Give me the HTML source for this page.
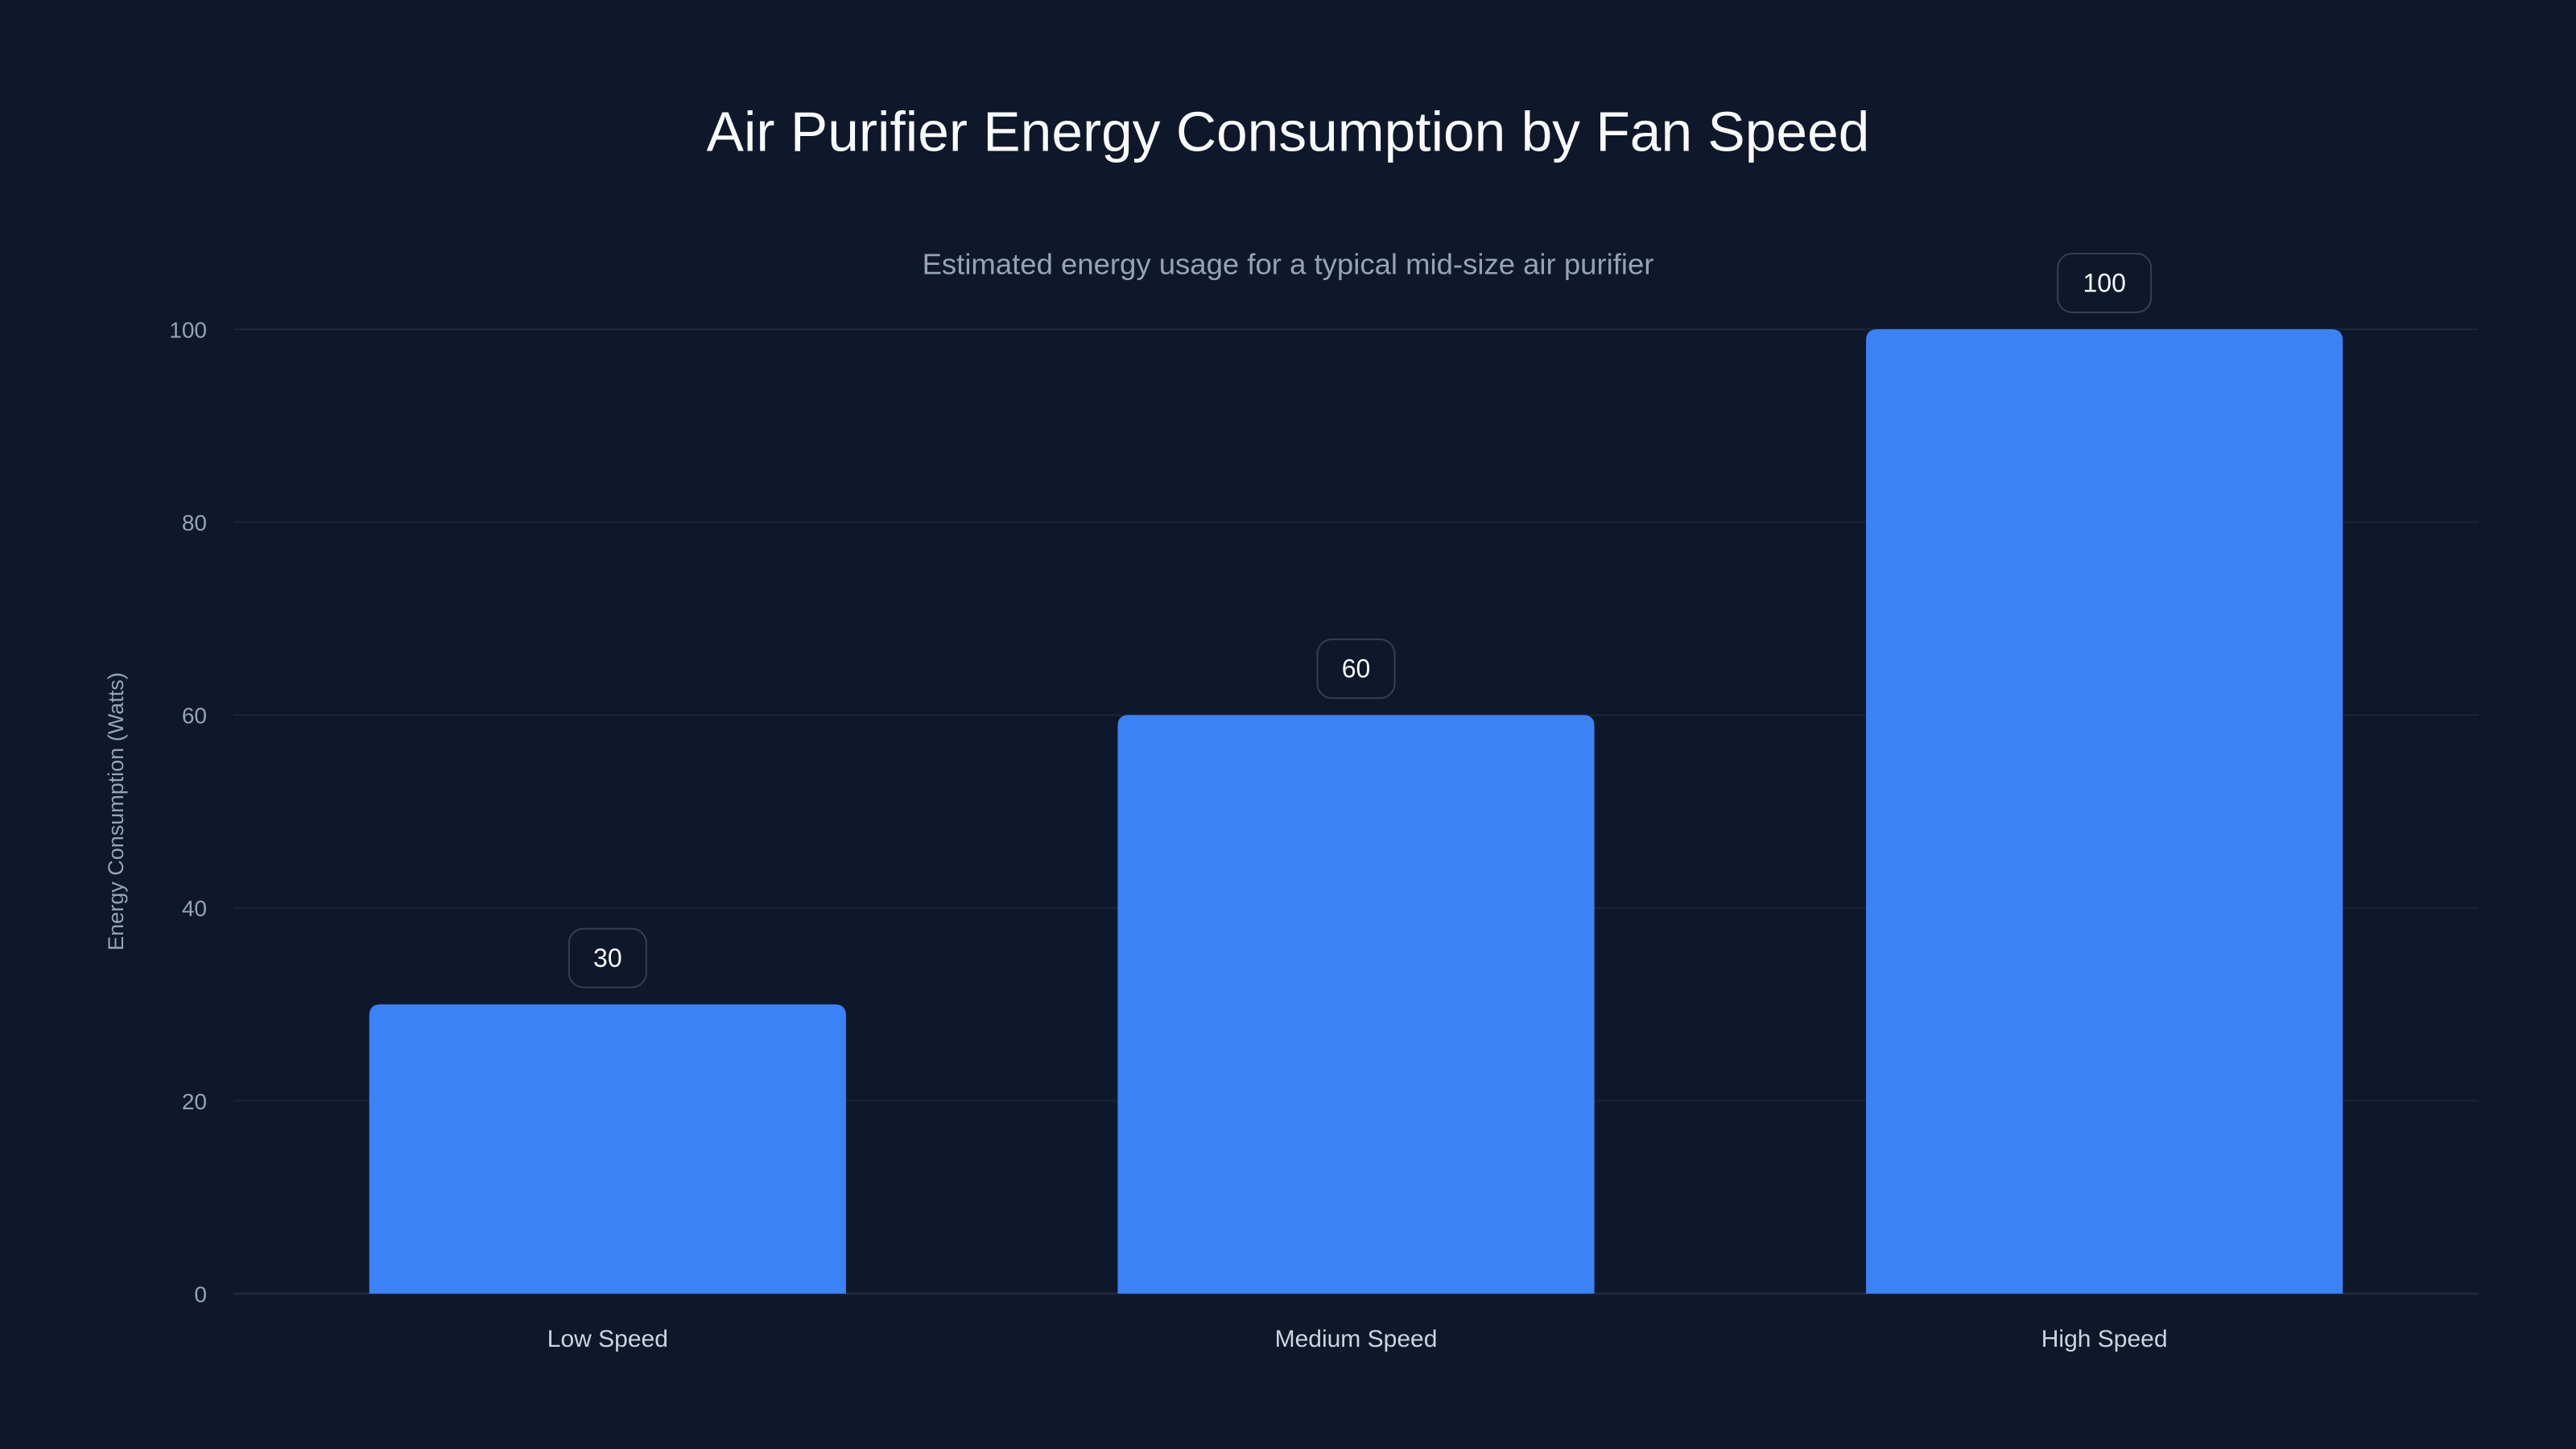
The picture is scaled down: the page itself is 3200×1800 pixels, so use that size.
<!DOCTYPE html>
<html><head><meta charset="utf-8"><style>
html,body{margin:0;padding:0;background:#0f172a;}
svg{display:block;font-family:"Liberation Sans",sans-serif;}
</style></head><body>
<svg id="chart" width="3200" height="1800" viewBox="0 0 3200 1800">
<rect width="3200" height="1800" fill="#0f172a"/>
<text x="1600" y="169" text-anchor="middle" dominant-baseline="middle" font-size="69.5" fill="#f8fafc">Air Purifier Energy Consumption by Fan Speed</text>
<text x="1600" y="331" text-anchor="middle" dominant-baseline="middle" font-size="36.5" fill="#94a3b8">Estimated energy usage for a typical mid-size air purifier</text>
<text transform="translate(146,1008) rotate(-90)" text-anchor="middle" dominant-baseline="middle" font-size="27" fill="#94a3b8">Energy Consumption (Watts)</text>
<g id="grid"></g><g id="bars"></g><g id="labels"></g>
</svg>
<script>
const categories = ["Low Speed", "Medium Speed", "High Speed"];
const values = [30, 60, 100];
const yTicks = [0, 20, 40, 60, 80, 100];
const NS = "http://www.w3.org/2000/svg";
const L = 290, R = 3079, T = 409, B = 1607, yMax = 100;
const y = v => B - (v / yMax) * (B - T);
const band = (R - L) / categories.length;
const bw = band * 0.637;
const xc = i => L + band * (i + 0.5);
function mk(tag, attrs, parent) { const e = document.createElementNS(NS, tag); for (const k in attrs) e.setAttribute(k, attrs[k]); parent.appendChild(e); return e; }
const grid = document.getElementById('grid'), bars = document.getElementById('bars'), labels = document.getElementById('labels');
yTicks.forEach(t => {
  const ln = mk('line', {x1: L, x2: R, y1: y(t), y2: y(t), stroke: t === 0 ? '#1e293b' : '#1c2638', 'stroke-width': t === 0 ? 3 : 2}, grid);
  
  
  const tx = mk('text', {x: 257, y: y(t) + 3, 'text-anchor': 'end', 'dominant-baseline': 'middle', 'font-size': 28, fill: '#94a3b8'}, grid);
  tx.textContent = t;
  
  
});
categories.forEach((c, i) => {
  const x0 = xc(i) - bw / 2, x1 = xc(i) + bw / 2, top = y(values[i]), r = 14;
  const p = mk('path', {d: `M${x0},${B}V${top + r}Q${x0},${top} ${x0 + r},${top}H${x1 - r}Q${x1},${top} ${x1},${top + r}V${B}Z`, fill: '#3b82f6'}, bars);
  
  
  const s = String(values[i]); const w = 56 + s.length * 20;
  const box = mk('rect', {x: xc(i) - w / 2, y: top - 94, width: w, height: 73, rx: 18, fill: '#0f172a', stroke: '#334155', 'stroke-width': 2}, labels);
  
  
  const vt = mk('text', {x: xc(i), y: top - 55, 'text-anchor': 'middle', 'dominant-baseline': 'middle', 'font-size': 32, fill: '#f8fafc'}, labels);
  vt.textContent = s;
  
  
  const xl = mk('text', {x: xc(i), y: 1665, 'text-anchor': 'middle', 'dominant-baseline': 'middle', 'font-size': 30, fill: '#cbd5e1'}, labels);
  xl.textContent = c;
  
  
});
</script>
</body></html>
